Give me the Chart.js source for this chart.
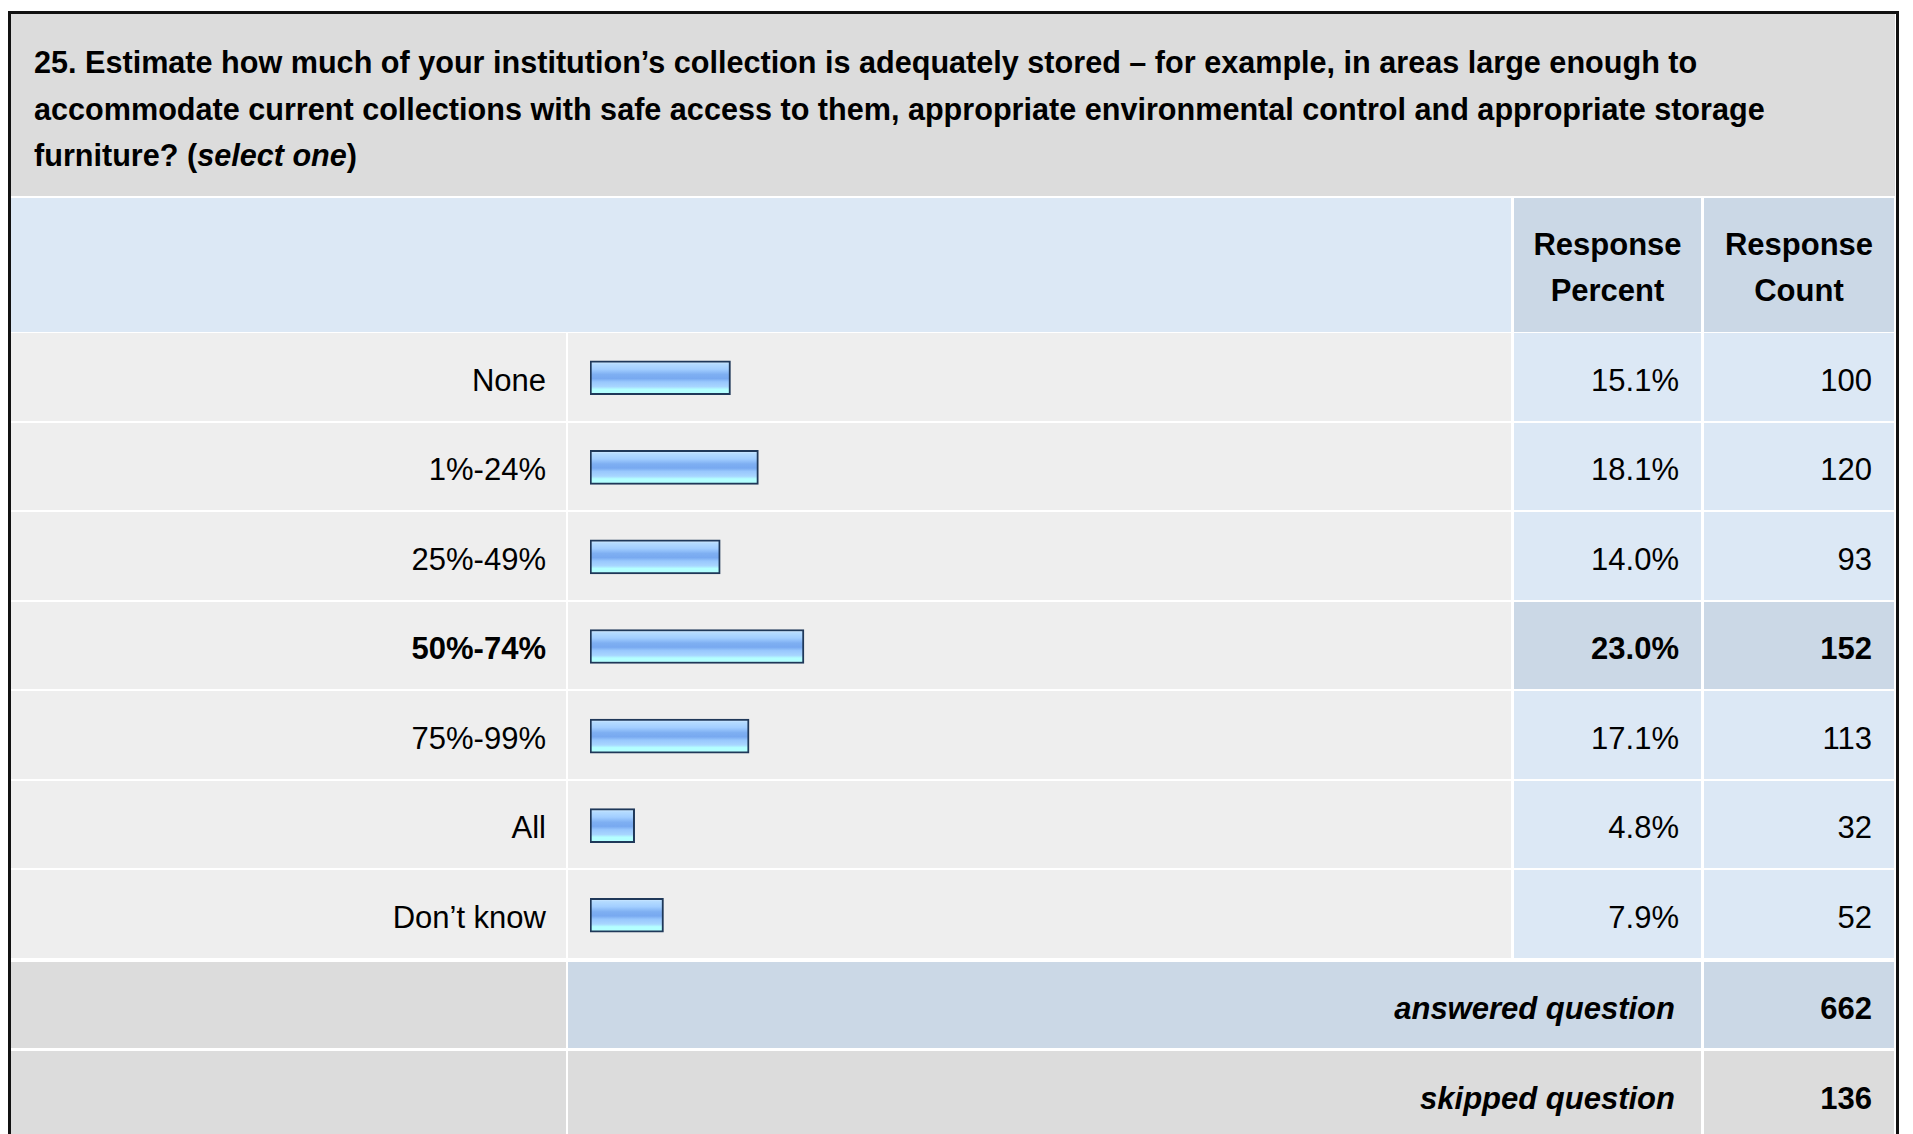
<!DOCTYPE html>
<html>
<head>
<meta charset="utf-8">
<script src="https://cdn.jsdelivr.net/npm/chart.js@4/dist/chart.umd.min.js"></script>
<style>
  html, body { margin:0; padding:0; background:#ffffff; width:1913px; height:1134px; overflow:hidden; }
  body { font-family: "Liberation Sans", Arial, Helvetica, sans-serif; color:#000; }
  #frame { position:absolute; left:8px; top:11px; width:1885px; height:1200px; border:3px solid #111; border-bottom:none; background:#fff; }
  .cell { position:absolute; box-sizing:border-box; display:flex; align-items:center; font-size:31px; padding-top:7px; }
  .r { justify-content:flex-end; padding-right:22px; }
  .c { justify-content:center; text-align:center; padding-top:5px; }
  #title { position:absolute; left:11px; top:14px; width:1884px; height:182px; background:#dcdcdc; box-sizing:border-box; padding:25px 0 0 23px; font-size:30.6px; font-weight:bold; line-height:46.5px; }
  #chartBox { position:absolute; left:568px; top:333px; width:943px; height:627px; }
</style>
</head>
<body>
<div id="frame"></div>
<div id="title"></div>
<div id="table"></div>
<div id="chartBox"><canvas id="c" width="943" height="627"></canvas></div>
<script>
// ---- data ----
const questionLines = [
  "25. Estimate how much of your institution’s collection is adequately stored – for example, in areas large enough to",
  "accommodate current collections with safe access to them, appropriate environmental control and appropriate storage",
  "furniture? (<i>select one</i>)"
];
const categories = ["None", "1%-24%", "25%-49%", "50%-74%", "75%-99%", "All", "Don’t know"];
const percents = [15.1, 18.1, 14.0, 23.0, 17.1, 4.8, 7.9];
const percentLabels = ["15.1%", "18.1%", "14.0%", "23.0%", "17.1%", "4.8%", "7.9%"];
const counts = [100, 120, 93, 152, 113, 32, 52];
const highlightIndex = 3;
const headerLabels = ["Response<br>Percent", "Response<br>Count"];
const answeredLabel = "answered question";
const answeredCount = 662;
const skippedLabel = "skipped question";
const skippedCount = 136;

// ---- table layout ----
document.getElementById('title').innerHTML = questionLines.join('<br>');
const tbl = document.getElementById('table');
function cell(x, y, w, h, bg, html, cls, extra) {
  const d = document.createElement('div');
  d.className = 'cell ' + (cls || '');
  d.style.left = x + 'px'; d.style.top = y + 'px';
  d.style.width = w + 'px'; d.style.height = h + 'px';
  d.style.background = bg;
  if (extra) Object.assign(d.style, extra);
  d.innerHTML = html || '';
  tbl.appendChild(d);
  return d;
}
const X0 = 11, X1 = 568, X2 = 1514, X3 = 1704, XE = 1895;
const rowH = 627 / 7;
// header
cell(X0, 198, X2 - X0 - 3, 134, '#dce8f5', '');
cell(X2, 198, X3 - X2 - 3, 134, '#cbd8e6', headerLabels[0], 'c', {fontWeight:'bold', lineHeight:'46px'});
cell(X3, 198, XE - X3 - 1, 134, '#cbd8e6', headerLabels[1], 'c', {fontWeight:'bold', lineHeight:'46px'});
// data rows
categories.forEach((cat, i) => {
  const y = Math.round(333 + i * rowH);
  const h = Math.round(333 + (i + 1) * rowH) - y - 2;
  const hl = i === highlightIndex;
  const fw = hl ? 'bold' : 'normal';
  cell(X0, y, X1 - X0 - 2, h, '#eeeeee', cat, 'r', {fontWeight: fw, paddingRight: '20px'});
  cell(X1, y, X2 - X1 - 3, h, '#eeeeee', '');
  cell(X2, y, X3 - X2 - 3, h, hl ? '#cbd8e6' : '#dce8f5', percentLabels[i], 'r', {fontWeight: fw});
  cell(X3, y, XE - X3 - 1, h, hl ? '#cbd8e6' : '#dce8f5', String(counts[i]), 'r', {fontWeight: fw});
});
// answered / skipped
let y = 962;
cell(X0, y, X1 - X0 - 2, 86, '#dcdcdc', '');
cell(X1, y, X3 - X1 - 3, 86, '#cbd8e6', answeredLabel, 'r', {fontWeight:'bold', fontStyle:'italic', paddingRight:'26px'});
cell(X3, y, XE - X3 - 1, 86, '#cbd8e6', String(answeredCount), 'r', {fontWeight:'bold'});
y = 1051;
cell(X0, y, X1 - X0 - 2, 88, '#dcdcdc', '');
cell(X1, y, X3 - X1 - 3, 88, '#dcdcdc', skippedLabel, 'r', {fontWeight:'bold', fontStyle:'italic', paddingRight:'26px'});
cell(X3, y, XE - X3 - 1, 88, '#dcdcdc', String(skippedCount), 'r', {fontWeight:'bold'});

// ---- chart (bars) ----
function barGradient(context) {
  const chart = context.chart;
  const ys = chart.scales && chart.scales.y;
  if (!ys || context.dataIndex === undefined) return '#8fbff8';
  const cy = ys.getPixelForValue(context.dataIndex);
  if (!isFinite(cy)) return '#8fbff8';
  const g = chart.ctx.createLinearGradient(0, cy - 17, 0, cy + 17);
  g.addColorStop(0.00, '#dcefff');
  g.addColorStop(0.10, '#b4dbff');
  g.addColorStop(0.25, '#a2ceff');
  g.addColorStop(0.40, '#7eaff2');
  g.addColorStop(0.52, '#78a9f0');
  g.addColorStop(0.62, '#98c7fd');
  g.addColorStop(0.76, '#a8d6ff');
  g.addColorStop(0.84, '#b4ffff');
  g.addColorStop(1.00, '#b4ffff');
  return g;
}
new Chart(document.getElementById('c'), {
  type: 'bar',
  data: {
    labels: categories,
    datasets: [{
      data: percents,
      backgroundColor: barGradient,
      borderColor: '#1f3859',
      borderWidth: 2,
      borderSkipped: false,
      barThickness: 34
    }]
  },
  options: {
    indexAxis: 'y',
    responsive: false,
    animation: false,
    layout: { padding: { left: 22, right: 0, top: 0, bottom: 0 } },
    plugins: { legend: { display: false }, tooltip: { enabled: false } },
    scales: {
      x: { display: false, min: 0, max: 99 },
      y: { display: false }
    }
  }
});
</script>
</body>
</html>
